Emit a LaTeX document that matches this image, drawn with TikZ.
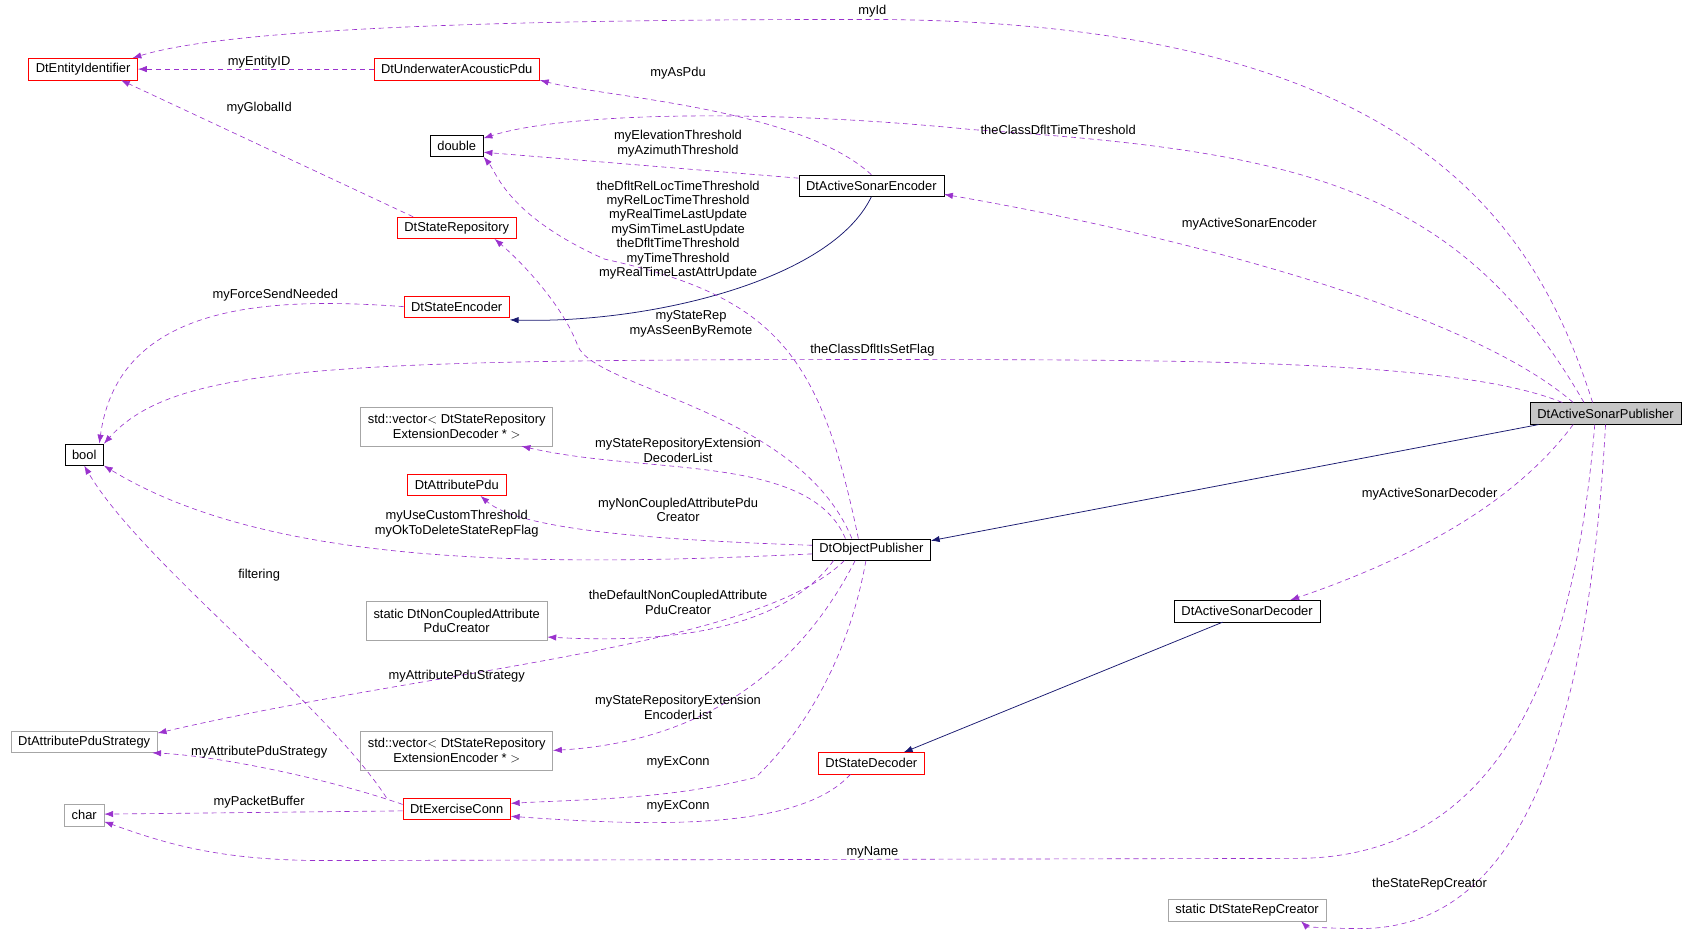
\documentclass[tikz,border=0pt]{standalone}
\usepackage{fontspec}
\setmainfont{Liberation Sans}
\usetikzlibrary{arrows.meta,calc}
\definecolor{edgepurple}{HTML}{9A32CD}
\definecolor{edgenavy}{HTML}{191970}
\tikzset{
cls/.style={
  draw, fill=white, inner xsep=0.2cm, inner ysep=0pt,
  minimum height=0.6cm, align=center, font=\fontsize{10.2}{11.4}\selectfont
  },
redcls/.style={cls, draw=red},
graycls/.style={cls, draw=gray!70},
tall/.style={minimum height=1.08cm},
uses/.style={edgepurple, dashed, dash pattern=on 4pt off 3pt, line width=0.5pt},
inherits/.style={edgenavy, line width=0.6pt},
lbl/.style={align=center, font=\fontsize{10.2}{11.4}\selectfont, inner sep=0pt}
}

\begin{document}
\begin{tikzpicture}[x=0.03cm, y=-0.03cm, >={Latex[length=7pt,width=5pt]}]
\useasboundingbox (0,0) rectangle (1568,868);

% classes
\node[redcls] (entid) at (77,64) {DtEntityIdentifier};
\node[redcls] (uwpdu) at (423,64) {DtUnderwaterAcousticPdu};
\node[cls] (dbl) at (423,135) {double};
\node[cls] (encoder) at (807,172) {DtActiveSonarEncoder};
\node[redcls] (staterep) at (423,211) {DtStateRepository};
\node[redcls] (stateenc) at (423,284) {DtStateEncoder};
\node[cls] (bool) at (78,421) {bool};
\node[graycls, tall] (vecdec) at (423,395) {std::vector$<$ DtStateRepository\\ExtensionDecoder * $>$};
\node[redcls] (attrpdu) at (423,449) {DtAttributePdu};
\node[cls] (objpub) at (807,509) {DtObjectPublisher};
\node[graycls, tall] (ncpdu) at (423,575) {static DtNonCoupledAttribute\\PduCreator};
\node[cls, fill=gray!45] (pub) at (1487,383) {DtActiveSonarPublisher};
\node[cls] (decoder) at (1155,566) {DtActiveSonarDecoder};
\node[graycls] (strat) at (78,687) {DtAttributePduStrategy};
\node[graycls, tall] (vecenc) at (423,695) {std::vector$<$ DtStateRepository\\ExtensionEncoder * $>$};
\node[redcls] (statedec) at (807,707) {DtStateDecoder};
\node[graycls] (char) at (78,755) {char};
\node[redcls] (exconn) at (423,749) {DtExerciseConn};
\node[graycls] (repcreator) at (1155,843) {static DtStateRepCreator};

% inheritance
\draw[inherits,->] ($(pub.south west)+(8,0)$) -- ($(objpub.north east)+(0,2)$);
\draw[inherits,->] (encoder.south) .. controls (770,260) and (600,300) .. ($(stateenc.south east)+(0,2)$);
\draw[inherits,->] ($(decoder.south west)+(45,0)$) -- ($(statedec.north)+(30,0)$);

% members
\draw[uses,->] ($(pub.north)+(-12,0)$) .. controls (1420,200) and (1300,18) .. (800,18) .. controls (400,18) and (200,30) .. ($(entid.north east)+(-5,0)$);
\draw[uses,->] (uwpdu) -- (entid);
\draw[uses,->] ($(staterep.north west)+(15,0)$) -- ($(entid.south)+(35,0)$);
\draw[uses,->] (encoder.north) .. controls (740,100) and (560,90) .. ($(uwpdu.south east)+(0,0)$);
\draw[uses,->] ($(encoder.west)+(0,-7)$) -- ($(dbl.east)+(0,6)$);
\draw[uses,->] ($(pub.north)+(-20,0)$) .. controls (1350,170) and (1200,140) .. (900,120) .. controls (700,100) and (520,105) .. ($(dbl.east)+(0,-7)$);
\draw[uses,->] ($(pub.north)+(-30,0)$) .. controls (1350,280) and (1050,210) .. ($(encoder.east)+(0,8)$);
\draw[uses,->] ($(objpub.north)+(-12,0)$) .. controls (760,330) and (720,275) .. (560,240) .. controls (470,200) and (460,160) .. ($(dbl.south east)+(0,0)$);
\draw[uses,->] ($(objpub.north)+(-18,0)$) .. controls (740,380) and (550,360) .. (535,320) .. controls (520,280) and (480,240) .. ($(staterep.south)+(35,0)$);
\draw[uses,->] (stateenc.west) .. controls (250,275) and (110,280) .. ($(bool.north)+(14,0)$);
\draw[uses,->] ($(pub.north west)+(30,0)$) .. controls (1350,333) and (1100,333) .. (800,333) .. controls (300,333) and (160,340) .. ($(bool.east)+(0,-10)$);
\draw[uses,->] ($(objpub.north)+(-24,0)$) .. controls (750,420) and (600,440) .. ($(vecdec.south)+(60,0)$);
\draw[uses,->] ($(objpub.west)+(0,-4)$) .. controls (600,500) and (480,490) .. ($(attrpdu.south)+(22,0)$);
\draw[uses,->] ($(objpub.west)+(0,4)$) .. controls (500,525) and (250,525) .. ($(bool.south east)+(0,0)$);
\draw[uses,->] ($(objpub.south)+(-35,0)$) .. controls (720,590) and (600,595) .. ($(ncpdu.east)+(0,15)$);
\draw[uses,->] ($(objpub.south)+(-25,0)$) .. controls (700,600) and (400,620) .. ($(strat.east)+(0,-8)$);
\draw[uses,->] ($(exconn.north west)+(-15,0)$) .. controls (300,650) and (130,520) .. (bool.south);
\draw[uses,->] ($(objpub.south)+(-15,0)$) .. controls (720,660) and (600,690) .. (vecenc.east);
\draw[uses,->] ($(exconn.west)+(0,-4)$) .. controls (300,720) and (200,700) .. ($(strat.south east)+(-5,0)$);
\draw[uses,->] ($(objpub.south)+(-5,0)$) .. controls (780,640) and (720,700) .. (700,720) .. controls (620,740) and (550,740) .. ($(exconn.east)+(0,-5)$);
\draw[uses,->] ($(exconn.west)+(0,2)$) -- ($(char.east)+(0,-1)$);
\draw[uses,->] ($(statedec.south west)+(30,0)$) .. controls (740,770) and (600,765) .. ($(exconn.east)+(0,7)$);
\draw[uses,->] ($(pub.south)+(-30,0)$) .. controls (1400,470) and (1300,520) .. ($(decoder.north)+(40,0)$);
\draw[uses,->] ($(pub.south)+(-10,0)$) .. controls (1460,600) and (1400,795) .. (1200,795) -- (300,797) .. controls (200,797) and (150,780) .. ($(char.east)+(0,6)$);
\draw[uses,->] (pub.south) .. controls (1470,700) and (1400,860) .. (1260,860) .. controls (1230,860) and (1210,858) .. ($(repcreator.south)+(50,0)$);

% member labels
\node[lbl] (l1) at (808,10) {myId};
\node[lbl] (l2) at (240,58) {myEntityID};
\node[lbl] (l3) at (240,100) {myGlobalId};
\node[lbl] (l4) at (628,68) {myAsPdu};
\node[lbl] (l5) at (628,133) {myElevationThreshold\\myAzimuthThreshold};
\node[lbl] (l6) at (980,120) {theClassDfltTimeThreshold};
\node[lbl] (l7) at (1157,208) {myActiveSonarEncoder};
\node[lbl] (l8) at (628,213) {theDfltRelLocTimeThreshold\\myRelLocTimeThreshold\\myRealTimeLastUpdate\\mySimTimeLastUpdate\\theDfltTimeThreshold\\myTimeThreshold\\myRealTimeLastAttrUpdate};
\node[lbl] (l9) at (640,300) {myStateRep\\myAsSeenByRemote};
\node[lbl] (l10) at (255,273) {myForceSendNeeded};
\node[lbl] (l11) at (808,324) {theClassDfltIsSetFlag};
\node[lbl] (l12) at (628,417) {myStateRepositoryExtension\\DecoderList};
\node[lbl] (l13) at (628,472) {myNonCoupledAttributePdu\\Creator};
\node[lbl] (l14) at (423,485) {myUseCustomThreshold\\myOkToDeleteStateRepFlag};
\node[lbl] (l15) at (628,558) {theDefaultNonCoupledAttribute\\PduCreator};
\node[lbl] (l16) at (423,626) {myAttributePduStrategy};
\node[lbl] (l17) at (240,533) {filtering};
\node[lbl] (l18) at (628,655) {myStateRepositoryExtension\\EncoderList};
\node[lbl] (l19) at (240,697) {myAttributePduStrategy};
\node[lbl] (l20) at (628,706) {myExConn};
\node[lbl] (l21) at (240,743) {myPacketBuffer};
\node[lbl] (l22) at (628,747) {myExConn};
\node[lbl] (l23) at (1324,458) {myActiveSonarDecoder};
\node[lbl] (l24) at (808,789) {myName};
\node[lbl] (l25) at (1324,819) {theStateRepCreator};
\end{tikzpicture}
\end{document}
